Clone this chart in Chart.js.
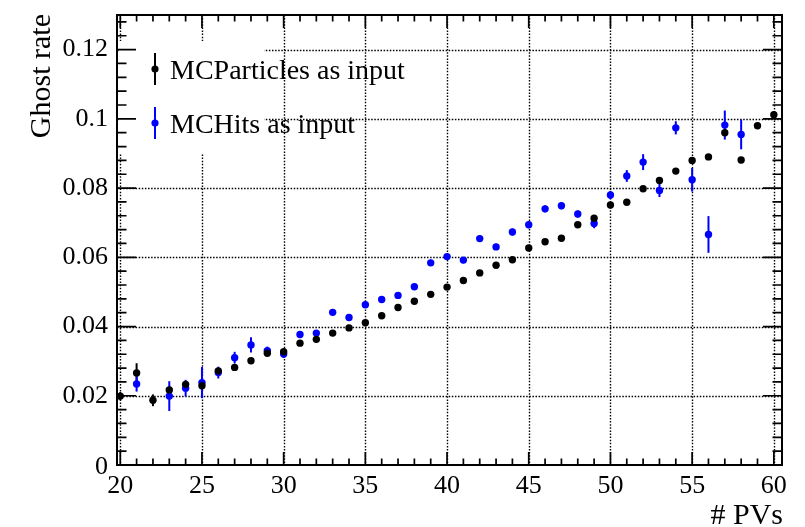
<!DOCTYPE html>
<html>
<head>
<meta charset="utf-8">
<script src="https://cdn.jsdelivr.net/npm/chart.js@4"></script>
<style>
  html, body { margin: 0; padding: 0; background: #fff; }
  #wrap { width: 805px; height: 527px; }
</style>
</head>
<body>
<div id="wrap"><canvas id="c" width="805" height="527"></canvas></div>
<script>
// Ghost rate versus number of primary vertices
const pvsParticles = [20,21,22,23,24,25,26,27,28,29,30,31,32,33,34,35,36,37,38,39,40,
                      41,42,43,44,45,46,47,48,49,50,51,52,53,54,55,56,57,58,59,60];
const rateParticles = [0.0199,0.0266,0.0187,0.0217,0.0233,0.0229,0.0272,0.0282,0.0301,0.0323,0.0327,
                       0.0352,0.0363,0.0381,0.0396,0.0411,0.0431,0.0455,0.0473,0.0493,0.0514,
                       0.0533,0.0555,0.0577,0.0593,0.0627,0.0645,0.0655,0.0694,0.0713,0.0751,
                       0.0759,0.0798,0.0822,0.0849,0.0880,0.0890,0.0960,0.0881,0.0980,0.1012];
const errParticles = [0.0012,0.0028,0.0017,0.0010,0.0010,0.0012,0.0008,0.0007,0.0007,0.0007,0.0007,
                      0.0007,0.0007,0.0007,0.0007,0.0007,0.0007,0.0007,0.0007,0.0007,0.0007,
                      0.0007,0.0007,0.0007,0.0007,0.0008,0.0008,0.0008,0.0008,0.0008,0.0008,
                      0.0008,0.0008,0.0008,0.0008,0.0008,0.0008,0.0009,0.0009,0.0009,0.0009];

const pvsHits = [21,23,24,25,26,27,28,29,30,31,32,33,34,35,36,37,38,39,40,
                 41,42,43,44,45,46,47,48,49,50,51,52,53,54,55,56,57,58];
const rateHits = [0.0234,0.0199,0.0222,0.0238,0.0267,0.0310,0.0347,0.0330,0.0321,
                  0.0377,0.0381,0.0441,0.0426,0.0463,0.0478,0.0490,0.0515,0.0584,0.0602,
                  0.0592,0.0654,0.0630,0.0673,0.0694,0.0740,0.0749,0.0725,0.0698,0.0780,
                  0.0835,0.0875,0.0793,0.0974,0.0824,0.0666,0.0982,0.0955];
const errHits = [0.0022,0.0043,0.0024,0.0045,0.0017,0.0017,0.0022,0.0012,0.0012,
                 0.0009,0.0009,0.0009,0.0009,0.0009,0.0009,0.0009,0.0009,0.0009,0.0009,
                 0.0009,0.0009,0.0009,0.0010,0.0010,0.0010,0.0010,0.0010,0.0014,0.0012,
                 0.0017,0.0023,0.0019,0.0019,0.0034,0.0053,0.0042,0.0043];

const xMajorTicks = [20,25,30,35,40,45,50,55,60];
const yMajorTicks = [0,0.02,0.04,0.06,0.08,0.1,0.12];
const yTickLabels = ['0','0.02','0.04','0.06','0.08','0.1','0.12'];
const seriesNames = ['MCParticles as input', 'MCHits as input'];
const seriesColors = ['#000000', '#0000ff'];

const FONT = '"Liberation Serif", "Times New Roman", serif';

function toPoints(xs, ys, es) {
  return xs.map((x, i) => ({ x: x, y: ys[i], e: es[i] }));
}

const frameAndErrors = {
  id: 'frameAndErrors',
  beforeDatasetsDraw(chart) {
    const { ctx, chartArea: a, scales: { x, y } } = chart;
    ctx.save();
    // dotted grid at major ticks
    ctx.strokeStyle = '#000';
    ctx.lineWidth = 1.4;
    ctx.setLineDash([1.5, 1.6]);
    xMajorTicks.forEach(v => {
      const px = Math.round(x.getPixelForValue(v)) + 0.5;
      ctx.beginPath(); ctx.moveTo(px, a.top); ctx.lineTo(px, a.bottom); ctx.stroke();
    });
    yMajorTicks.forEach(v => {
      if (v === 0) return;
      const py = Math.round(y.getPixelForValue(v)) + 0.5;
      ctx.beginPath(); ctx.moveTo(a.left, py); ctx.lineTo(a.right, py); ctx.stroke();
    });
    ctx.setLineDash([]);
    // legend box (white fill, no border)
    ctx.fillStyle = '#fff';
    ctx.fillRect(a.left + 2, 41, 145, 112);
    // error bars
    chart.data.datasets.forEach(ds => {
      ctx.strokeStyle = ds.backgroundColor;
      ctx.lineWidth = 2;
      ds.data.forEach(p => {
        const px = x.getPixelForValue(p.x);
        ctx.beginPath();
        ctx.moveTo(px, y.getPixelForValue(p.y - p.e));
        ctx.lineTo(px, y.getPixelForValue(p.y + p.e));
        ctx.stroke();
      });
    });
    ctx.restore();
  },
  afterDraw(chart) {
    const { ctx, chartArea: a, scales: { x, y } } = chart;
    ctx.save();
    ctx.strokeStyle = '#000';
    ctx.lineWidth = 2;
    // frame
    ctx.strokeRect(a.left, a.top, a.right - a.left, a.bottom - a.top);
    // x ticks (bottom and top, pointing inward)
    ctx.lineWidth = 1.7;
    for (let v = 20; v <= 60; v++) {
      const px = x.getPixelForValue(v);
      const len = (v % 5 === 0) ? 13 : 6.5;
      ctx.beginPath();
      ctx.moveTo(px, a.bottom); ctx.lineTo(px, a.bottom - len);
      ctx.moveTo(px, a.top); ctx.lineTo(px, a.top + len);
      ctx.stroke();
    }
    // y ticks (left and right)
    for (let k = 0; k <= 32; k++) {
      const v = k * 0.004;
      if (v > 0.13) break;
      const py = y.getPixelForValue(v);
      const len = (k % 5 === 0) ? 19 : 9.5;
      ctx.beginPath();
      ctx.moveTo(a.left, py); ctx.lineTo(a.left + len, py);
      ctx.moveTo(a.right, py); ctx.lineTo(a.right - len, py);
      ctx.stroke();
    }
    // tick labels
    ctx.fillStyle = '#000';
    ctx.font = '26px ' + FONT;
    ctx.textAlign = 'center';
    ctx.textBaseline = 'middle';
    xMajorTicks.forEach(v => {
      ctx.fillText(String(v), x.getPixelForValue(v), a.bottom + 21);
    });
    ctx.textAlign = 'right';
    yMajorTicks.forEach((v, i) => {
      const py = y.getPixelForValue(v);
      ctx.fillText(yTickLabels[i], a.left - 9, v === 0 ? py + 2 : py);
    });
    // axis titles
    ctx.font = '30px ' + FONT;
    ctx.textAlign = 'right';
    ctx.fillText('# PVs', a.right + 1, 516);
    ctx.save();
    ctx.translate(42, a.top - 1);
    ctx.rotate(-Math.PI / 2);
    ctx.textAlign = 'right';
    ctx.fillText('Ghost rate', 0, 0);
    ctx.restore();
    // legend entries
    const entryY = [69, 123];
    ctx.font = '28px ' + FONT;
    ctx.textAlign = 'left';
    entryY.forEach((ly, i) => {
      ctx.strokeStyle = seriesColors[i];
      ctx.fillStyle = seriesColors[i];
      ctx.lineWidth = 2;
      ctx.beginPath(); ctx.moveTo(155, ly - 16); ctx.lineTo(155, ly + 16); ctx.stroke();
      ctx.beginPath(); ctx.arc(155, ly, 3.6, 0, Math.PI * 2); ctx.fill();
      ctx.fillStyle = '#000';
      ctx.fillText(seriesNames[i], 170, ly + 3);
    });
    ctx.restore();
  }
};

new Chart(document.getElementById('c'), {
  type: 'scatter',
  data: {
    datasets: [
      { label: seriesNames[0], data: toPoints(pvsParticles, rateParticles, errParticles),
        backgroundColor: seriesColors[0], borderColor: seriesColors[0],
        pointRadius: 3.7, pointBorderWidth: 0 },
      { label: seriesNames[1], data: toPoints(pvsHits, rateHits, errHits),
        backgroundColor: seriesColors[1], borderColor: seriesColors[1],
        pointRadius: 3.7, pointBorderWidth: 0 }
    ]
  },
  options: {
    responsive: false,
    animation: false,
    layout: { padding: { left: 117, top: 15, right: 23, bottom: 62 } },
    plugins: { legend: { display: false }, tooltip: { enabled: false } },
    scales: {
      x: { type: 'linear', min: 19.8, max: 60.5, display: false },
      y: { type: 'linear', min: 0, max: 0.13, display: false }
    }
  },
  plugins: [frameAndErrors]
});
</script>
</body>
</html>
